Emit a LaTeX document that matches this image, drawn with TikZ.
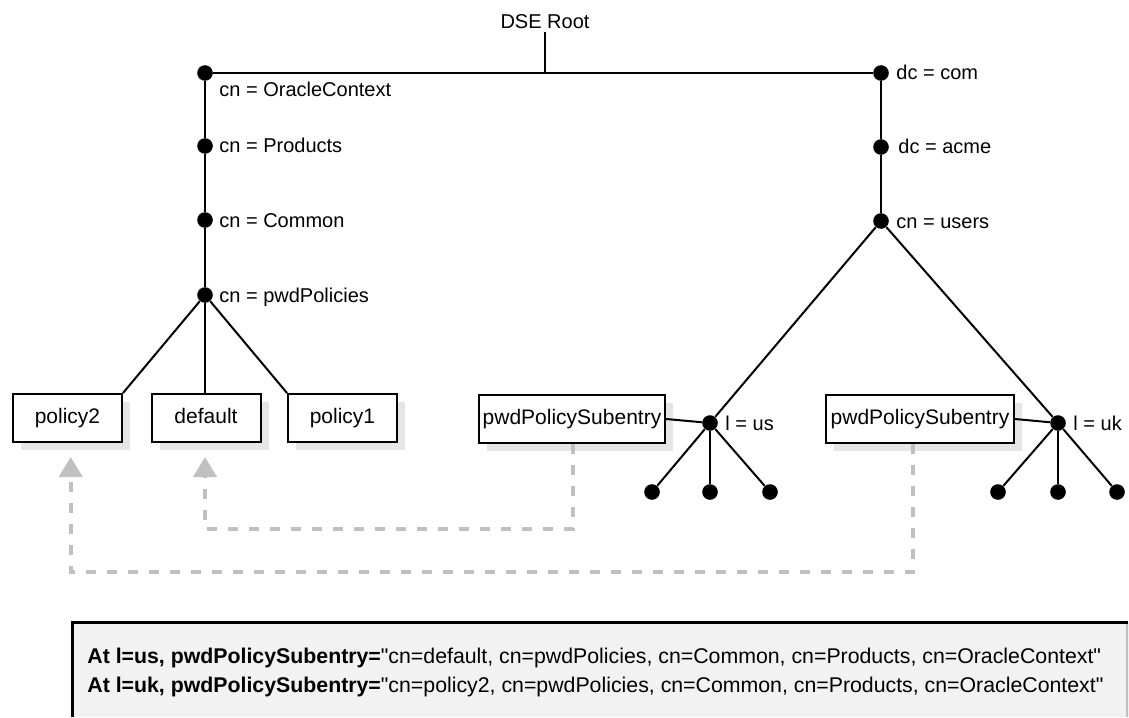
\documentclass[tikz,border=0pt]{standalone}
\usepackage{fontspec}
\setmainfont{Liberation Sans}
\newfontfamily\nqfont{Liberation Sans}
\usetikzlibrary{arrows.meta,shadows}
\definecolor{dgray}{RGB}{192,192,192}
\definecolor{shgray}{RGB}{230,230,230}
\definecolor{panel}{RGB}{242,242,242}
\newcommand{\qq}{{\nqfont\char34}}
\begin{document}
\begin{tikzpicture}[x=0.5pt,y=-0.5pt,
  every node/.style={font=\fontsize{10}{12}\selectfont},
  dot/.style={circle,fill=black,inner sep=0pt,minimum size=7.8pt},
  lbl/.style={anchor=base west,inner sep=0pt},
  entry/.style={draw=black,line width=1pt,fill=white,minimum height=24pt,inner sep=0pt,
    text height=7.6pt,text depth=2.2pt,font=\fontsize{10.5}{12}\selectfont,
    drop shadow={shadow xshift=4pt,shadow yshift=-4pt,fill=shgray,opacity=1}},
  tree/.style={line width=1pt},
  ref/.style={draw=dgray,line width=2pt,dash pattern=on 5pt off 5.5pt,
    -{Triangle[width=11.5pt,length=10pt,fill=dgray]}}
]
\useasboundingbox (0,0) rectangle (1129,717);

% root
\node[anchor=base,inner sep=1pt] (root) at (545,29) {DSE Root};
\coordinate (rj) at (545,73);

% dots
\node[dot] (oc) at (205,73) {};
\node[dot] (prod) at (205,146) {};
\node[dot] (comm) at (205,220) {};
\node[dot] (pwd) at (205,295) {};
\node[dot] (com) at (881,73) {};
\node[dot] (acme) at (881,147) {};
\node[dot] (users) at (881,221) {};
\node[dot] (us) at (710,423) {};
\node[dot] (uk) at (1058,423) {};
\node[dot] (us1) at (652,492) {};
\node[dot] (us2) at (710,492) {};
\node[dot] (us3) at (770,492) {};
\node[dot] (uk1) at (998,492) {};
\node[dot] (uk2) at (1058,492) {};
\node[dot] (uk3) at (1117,492) {};

% labels
\node[lbl] (Loc) at (219,97) {cn = OracleContext};
\node[lbl] (Lprod) at ([xshift=7pt,yshift=-3.5pt]prod.center) {cn = Products};
\node[lbl] (Lcomm) at ([xshift=7pt,yshift=-3.5pt]comm.center) {cn = Common};
\node[lbl] (Lpwd) at ([xshift=7pt,yshift=-3.5pt]pwd.center) {cn = pwdPolicies};
\node[lbl] (Lcom) at ([xshift=7.5pt,yshift=-3.5pt]com.center) {dc = com};
\node[lbl] (Lacme) at ([xshift=8.5pt,yshift=-3.5pt]acme.center) {dc = acme};
\node[lbl] (Lusers) at ([xshift=7.5pt,yshift=-3.5pt]users.center) {cn = users};
\node[lbl] (Lus) at ([xshift=7.5pt,yshift=-3.5pt]us.center) {l = us};
\node[lbl] (Luk) at ([xshift=7.5pt,yshift=-3.5pt]uk.center) {l = uk};

% boxes
\node[entry,minimum width=54.5pt] (p2) at (67.5,418) {policy2};
\node[entry,minimum width=54.5pt] (def) at (206,418) {default};
\node[entry,minimum width=54.5pt] (p1) at (342.5,418) {policy1};
\node[entry,minimum width=93pt] (s1) at (572,419) {pwdPolicySubentry};
\node[entry,minimum width=94pt] (s2) at (920,419) {pwdPolicySubentry};

% tree lines
\draw[tree] (root.south) -- (rj);
\draw[tree] (oc) -- (com);
\draw[tree] (oc) -- (prod) -- (comm) -- (pwd);
\draw[tree] (com) -- (acme) -- (users);
\draw[tree] (pwd) -- (p2.north east);
\draw[tree] (pwd) -- (pwd |- def.north);
\draw[tree] (pwd) -- (p1.north west);
\draw[tree] (users) -- (us);
\draw[tree] (users) -- (uk);
\draw[tree] (s1.east) -- (us);
\draw[tree] (s2.east) -- (uk);
\draw[tree] (us) -- (us1);
\draw[tree] (us) -- (us2);
\draw[tree] (us) -- (us3);
\draw[tree] (uk) -- (uk1);
\draw[tree] (uk) -- (uk2);
\draw[tree] (uk) -- (uk3);

% reference arrows
\coordinate (tipd) at (205,457);
\coordinate (c1) at (205,529);
\coordinate (tipp) at (70.7,457);
\coordinate (c2) at (70.7,572);
\draw[ref] ([xshift=0.5pt]s1.south) |- (c1) -- (tipd);
\draw[ref] ([xshift=-3.5pt]s2.south) |- (c2) -- (tipp);

% bottom panel
\fill[panel] (72,622) rectangle (1129,717);
\draw[black!25,line width=1pt] (1127,622) -- (1127,717);
\draw[line width=1.5pt] (72,717) -- (72,622) -- (1128,622);
\node[anchor=base west,inner sep=0pt,font=\fontsize{10.65}{12}\selectfont] (n1) at (87,663)
  {\textbf{At l=us, pwdPolicySubentry=}\qq cn=default, cn=pwdPolicies, cn=Common, cn=Products, cn=OracleContext\qq};
\node[anchor=base west,inner sep=0pt,font=\fontsize{10.65}{12}\selectfont] (n2) at (87,692)
  {\textbf{At l=uk, pwdPolicySubentry=}\qq cn=policy2, cn=pwdPolicies, cn=Common, cn=Products, cn=OracleContext\qq};
\end{tikzpicture}
\end{document}
